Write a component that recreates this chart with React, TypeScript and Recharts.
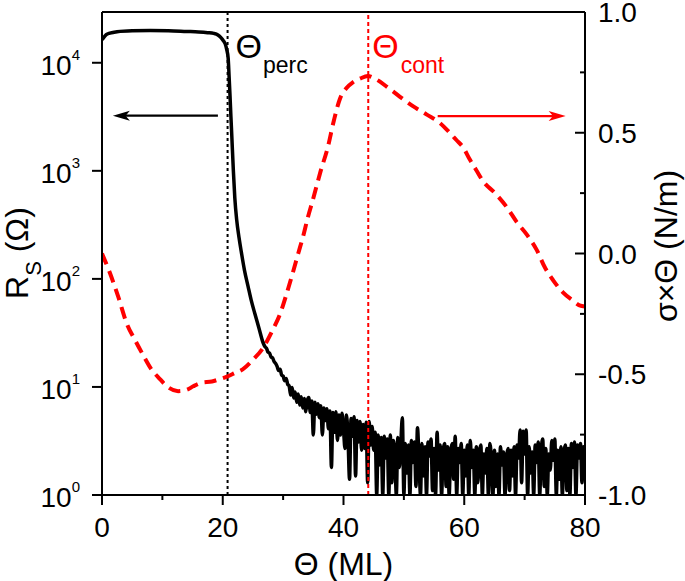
import React from 'react';
import { ComposedChart, Line, XAxis, YAxis, ReferenceLine } from 'recharts';

const FONT = '"Liberation Sans", Arial, Helvetica, sans-serif';

// Black curve: sheet resistance R_S (Ohm), smooth part
const thetaSmooth = [0, 0.3, 0.7, 1.3, 2.5, 5, 8, 11, 14, 16, 17.5, 18.5, 19.2, 19.7, 20.1, 20.4, 20.65, 20.9, 21.05, 21.2, 21.35, 21.5, 21.75, 22.0, 22.3, 22.7, 23.1, 23.6, 24.2, 24.7, 25.3, 26.0, 26.7];
const rsSmooth = [16300, 17200, 18200, 18800, 19400, 19800, 19900, 19800, 19500, 19300, 19000, 18700, 18100, 17100, 16000, 15000, 13300, 11000, 7500, 5000, 3200, 2100, 1020, 560, 355, 240, 174, 120, 85, 64, 48, 35, 25.5];

// Black curve: noisy part, sampled every 0.25 ML from 27 ML
const noiseStart = 27;
const noiseStep = 0.25;
const rsNoise = [
  23.5, 22.8, 21.0, 20.6, 19.0, 18.6, 17.2, 16.5,
  15.5, 14.2, 14.6, 12.9, 12.6, 11.4, 12.0, 10.6,
  10.2, 8.4, 9.9, 7.9, 9.0, 7.2, 8.6, 6.8,
  8.1, 6.4, 7.8, 5.9, 7.5, 8.0, 5.8, 7.4,
  3.6, 7.2, 5.6, 7.0, 5.2, 6.7, 3.6, 6.4,
  4.9, 6.3, 4.1, 6.0, 1.8, 5.8, 3.8, 5.9,
  3.2, 5.5, 3.6, 5.7, 4.0, 2.7, 5.5, 3.3,
  1.4, 5.1, 3.5, 5.3, 1.5, 4.9, 3.1, 4.8,
  2.6, 4.5, 2.7, 4.7, 1.3, 4.8, 2.9, 4.3,
  2.6, 3.8, 1.0, 3.6, 1.9, 3.4, 1.0, 3.5,
  2.2, 3.3, 1.0, 3.6, 1.3, 3.2, 2.4, 1.0,
  3.4, 1.8, 3.1, 5.2, 1.0, 3.0, 1.6, 2.9,
  1.0, 3.2, 2.0, 3.1, 1.2, 4.2, 2.2, 1.0,
  3.0, 1.5, 2.8, 1.0, 3.1, 2.3, 3.3, 1.1,
  2.7, 1.0, 3.8, 1.7, 2.9, 1.0, 2.6, 3.0,
  1.2, 2.8, 1.0, 2.5, 3.0, 1.4, 3.5, 1.0,
  2.7, 2.0, 3.0, 1.0, 2.6, 1.5, 2.9, 1.0,
  3.2, 1.8, 2.6, 1.0, 2.8, 1.3, 2.5, 2.9,
  1.0, 2.4, 1.6, 2.7, 1.0, 3.0, 2.1, 1.0,
  2.6, 1.2, 2.4, 1.0, 2.8, 1.9, 2.5, 1.0,
  2.2, 2.7, 1.1, 2.6, 1.5, 2.8, 1.0, 2.9,
  2.2, 4.0, 1.3, 3.9, 2.4, 4.0, 1.0, 2.8,
  1.6, 2.5, 1.0, 2.9, 2.0, 3.1, 1.0, 2.6,
  3.3, 1.2, 2.7, 1.0, 2.4, 1.7, 3.2, 2.1,
  3.3, 1.0, 2.6, 1.4, 2.8, 1.0, 2.5, 2.9,
  1.1, 2.7, 1.0, 3.0, 1.8, 3.1, 1.0, 2.9,
  2.2, 3.0, 1.3, 2.8, 2.4,
];

// Red dashed curve: sigma x Theta (N/m)
const thetaSigma = [0, 1.3, 2.7, 4.1, 5.5, 6.8, 8.2, 9.6, 11, 12.6, 14, 15.1, 16.5, 18.2, 19.5, 20.7, 22, 23.3, 25, 26.7, 28.2, 29.5, 30.6, 31.6, 32.5, 33.3, 34.1, 34.9, 36.2, 37.4, 38.4, 39.4, 40.5, 41.6, 42.8, 44.0, 45.5, 47.2, 49.3, 51.5, 53.8, 56.0, 57.6, 58.7, 59.8, 60.9, 62.0, 63.1, 65.1, 67.1, 68.7, 70.4, 72.0, 73.3, 74.7, 76.3, 78, 79.1, 80];
const sigmaTheta = [0.0, -0.08, -0.18, -0.29, -0.36, -0.42, -0.48, -0.52, -0.555, -0.57, -0.565, -0.55, -0.535, -0.53, -0.52, -0.51, -0.495, -0.48, -0.44, -0.39, -0.32, -0.25, -0.165, -0.08, 0.0, 0.07, 0.15, 0.22, 0.34, 0.44, 0.55, 0.64, 0.685, 0.71, 0.725, 0.735, 0.72, 0.69, 0.65, 0.61, 0.575, 0.54, 0.50, 0.47, 0.44, 0.39, 0.345, 0.30, 0.25, 0.19, 0.13, 0.077, 0.015, -0.055, -0.11, -0.16, -0.195, -0.215, -0.22];

const xTicks = [0, 10, 20, 30, 40, 50, 60, 70, 80];
const xLabelled = [0, 20, 40, 60, 80];
const leftTicks = [1, 10, 100, 1000, 10000];
const leftExp = ['0', '1', '2', '3', '4'];
const rightTicks = [-1, -0.75, -0.5, -0.25, 0, 0.25, 0.5, 0.75, 1];
const rightLabelled = [-1, -0.5, 0, 0.5, 1];

const thetaPerc = 20.8;
const thetaCont = 44.1;
const leftArrow = { from: 19.2, to: 1.8, rs: 3240 };
const rightArrow = { from: 55.6, to: 76.8, sigma: 0.569 };

const rsData = [
  ...thetaSmooth.map((t, i) => ({ theta: t, rs: rsSmooth[i] })),
  ...rsNoise.map((r, i) => ({ theta: noiseStart + i * noiseStep, rs: r })),
];
const sigmaData = thetaSigma.map((t, i) => ({ theta: t, sigma: sigmaTheta[i] }));

const XTick = (props: any) => {
  const { x, y, payload } = props;
  const v = payload.value;
  const major = xLabelled.includes(v);
  return (
    <g>
      <line x1={x} x2={x} y1={y} y2={y + (major ? 10 : 5)} stroke="#000" strokeWidth={2} />
      {major && (
        <text x={x} y={y + 42} textAnchor="middle" fontSize={28} fontFamily={FONT} fill="#000">
          {String(v)}
        </text>
      )}
    </g>
  );
};

const LeftTick = (props: any) => {
  const { x, y, payload } = props;
  const idx = leftTicks.indexOf(payload.value);
  return (
    <g>
      <line x1={x - 10} x2={x} y1={y} y2={y} stroke="#000" strokeWidth={2} />
      <text x={x - 22} y={y + 12} textAnchor="end" fontSize={28} fontFamily={FONT} fill="#000">
        10<tspan fontSize={15} dy={-15}>{leftExp[idx]}</tspan>
      </text>
    </g>
  );
};

const RightTick = (props: any) => {
  const { x, y, payload } = props;
  const v = payload.value;
  const major = rightLabelled.includes(v);
  return (
    <g>
      <line x1={x - (major ? 10 : 5)} x2={x} y1={y} y2={y} stroke="#000" strokeWidth={2} />
      {major && (
        <text x={x + 13} y={y + 10} textAnchor="start" fontSize={28} fontFamily={FONT} fill="#000">
          {v.toFixed(1)}
        </text>
      )}
    </g>
  );
};

const arrowShape = (color: string) => (props: any) => {
  const { x1, y1, x2, y2 } = props;
  const dir = Math.sign(x2 - x1);
  const hl = 17;
  const hw = 5;
  return (
    <g>
      <line x1={x1} y1={y1} x2={x2 - dir * hl * 0.7} y2={y2} stroke={color} strokeWidth={2.2} />
      <polygon
        points={`${x2},${y2} ${x2 - dir * hl},${y2 - hw} ${x2 - dir * hl * 0.75},${y2} ${x2 - dir * hl},${y2 + hw}`}
        fill={color}
      />
    </g>
  );
};

const PercLabel = (props: any) => {
  const vb = props.viewBox || {};
  return (
    <text x={vb.x + 8} y={vb.y + 46} fontFamily={FONT} fill="#000">
      <tspan fontSize={34}>Θ</tspan>
      <tspan fontSize={23} dy={15} dx={1}>perc</tspan>
    </text>
  );
};

const ContLabel = (props: any) => {
  const vb = props.viewBox || {};
  return (
    <text x={vb.x + 4} y={vb.y + 46} fontFamily={FONT} fill="#ff0000">
      <tspan fontSize={34}>Θ</tspan>
      <tspan fontSize={23} dy={15} dx={2}>cont</tspan>
    </text>
  );
};

const XTitle = (props: any) => {
  const vb = props.viewBox || {};
  return (
    <text x={vb.x + vb.width / 2} y={vb.y + 80} textAnchor="middle" fontSize={32} fontFamily={FONT} fill="#000">
      Θ (ML)
    </text>
  );
};

const LeftTitle = () => {
  const cx = 28;
  const cy = 253;
  return (
    <text x={cx} y={cy} transform={`rotate(-90, ${cx}, ${cy})`} textAnchor="middle" fontSize={32} fontFamily={FONT} fill="#000">
      R<tspan fontSize={22} dy={13}>S</tspan><tspan dy={-13}> (Ω)</tspan>
    </text>
  );
};

const RightTitle = () => {
  const cx = 677;
  const cy = 246;
  return (
    <text x={cx} y={cy} transform={`rotate(-90, ${cx}, ${cy})`} textAnchor="middle" fontSize={32} fontFamily={FONT} fill="#000">
      σ×Θ (N/m)
    </text>
  );
};

export default function App() {
  return (
    <div style={{ position: 'absolute', left: 0, top: 0, width: 685, height: 581, background: '#fff' }}>
      <ComposedChart width={685} height={581} margin={{ top: 12, right: 0, bottom: 0, left: 0 }}>
        <XAxis
          dataKey="theta"
          type="number"
          domain={[0, 80]}
          ticks={xTicks}
          interval={0}
          allowDataOverflow
          height={86}
          axisLine={{ stroke: '#000', strokeWidth: 2 }}
          tickLine={false}
          tickSize={0}
          tickMargin={0}
          tick={XTick}
          label={<XTitle />}
        />
        <YAxis
          yAxisId="left"
          orientation="left"
          type="number"
          scale="log"
          domain={[1, 29500]}
          allowDataOverflow
          ticks={leftTicks}
          interval={0}
          width={102}
          axisLine={{ stroke: '#000', strokeWidth: 2 }}
          tickLine={false}
          tickSize={0}
          tickMargin={0}
          tick={LeftTick}
          label={<LeftTitle />}
        />
        <YAxis
          yAxisId="right"
          orientation="right"
          type="number"
          domain={[-1, 1]}
          allowDataOverflow
          ticks={rightTicks}
          interval={0}
          width={100}
          axisLine={{ stroke: '#000', strokeWidth: 2 }}
          tickLine={false}
          tickSize={0}
          tickMargin={0}
          tick={RightTick}
          label={<RightTitle />}
        />
        <ReferenceLine yAxisId="right" y={1} stroke="#000" strokeWidth={2} />
        <ReferenceLine
          yAxisId="left"
          x={thetaPerc}
          stroke="#000"
          strokeWidth={2}
          strokeDasharray="3 3"
          label={<PercLabel />}
        />
        <Line
          data={sigmaData}
          yAxisId="right"
          dataKey="sigma"
          type="monotone"
          stroke="#ff0000"
          strokeWidth={4}
          strokeDasharray="12 7"
          dot={false}
          activeDot={false}
          isAnimationActive={false}
        />
        <Line
          data={rsData}
          yAxisId="left"
          dataKey="rs"
          type="monotone"
          stroke="#000"
          strokeWidth={3.5}
          strokeLinejoin="round"
          dot={false}
          activeDot={false}
          isAnimationActive={false}
        />
        <ReferenceLine
          yAxisId="left"
          x={thetaCont}
          stroke="#ff0000"
          strokeWidth={2}
          strokeDasharray="4 3"
          label={<ContLabel />}
        />
        <ReferenceLine
          yAxisId="left"
          segment={[{ x: leftArrow.from, y: leftArrow.rs }, { x: leftArrow.to, y: leftArrow.rs }]}
          shape={arrowShape('#000')}
        />
        <ReferenceLine
          yAxisId="right"
          segment={[{ x: rightArrow.from, y: rightArrow.sigma }, { x: rightArrow.to, y: rightArrow.sigma }]}
          shape={arrowShape('#ff0000')}
        />
      </ComposedChart>
    </div>
  );
}
